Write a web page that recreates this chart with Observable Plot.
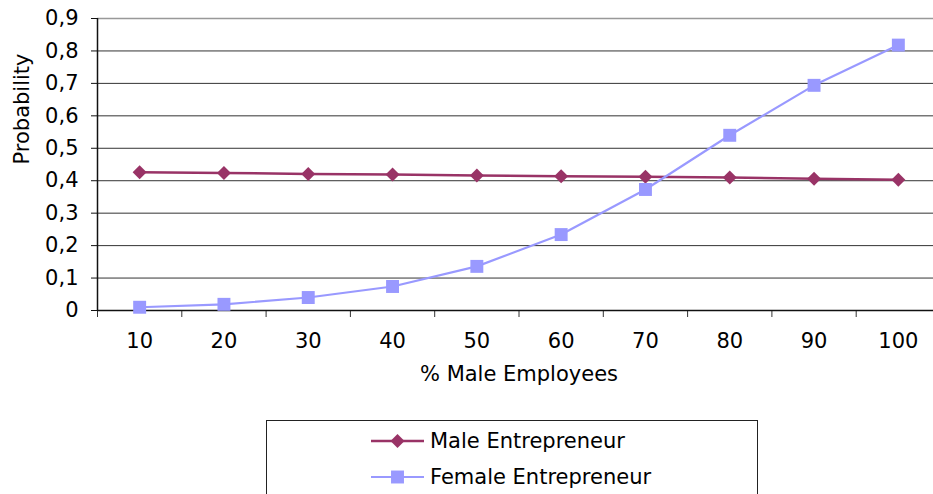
<!DOCTYPE html>
<html>
<head>
<meta charset="utf-8">
<script src="https://cdn.jsdelivr.net/npm/d3@7"></script>
<script src="https://cdn.jsdelivr.net/npm/@observablehq/plot@0.6"></script>
<style>
  html, body { margin: 0; padding: 0; background: #fff; overflow: hidden; width: 933px; height: 494px; }
  #wrap { position: relative; width: 933px; height: 494px; overflow: hidden; font-family: "DejaVu Sans", Verdana, sans-serif; }
  #wrap > svg { max-width: none !important; }
  #legend { position: absolute; left: 266px; top: 420px; width: 492px; height: 100px; border: 1px solid #222; box-sizing: border-box; }
  .row { position: absolute; left: 104px; height: 24px; display: flex; align-items: center; font-size: 21px; color: #000; }
  .row svg { margin-right: 6px; }
</style>
</head>
<body>
<div id="wrap"></div>
<script>
const categories = [10, 20, 30, 40, 50, 60, 70, 80, 90, 100];
const maleValues = [0.426, 0.424, 0.421, 0.419, 0.416, 0.414, 0.412, 0.410, 0.406, 0.403];
const femaleValues = [0.010, 0.019, 0.040, 0.074, 0.136, 0.234, 0.373, 0.540, 0.694, 0.818];
const seriesNames = ["Male Entrepreneur", "Female Entrepreneur"];
const seriesColors = ["#993366", "#9999FF"];
const seriesSymbols = ["diamond2", "square"];
const yTickValues = [0, 0.1, 0.2, 0.3, 0.4, 0.5, 0.6, 0.7, 0.8, 0.9];
const yTickLabels = ["0", "0,1", "0,2", "0,3", "0,4", "0,5", "0,6", "0,7", "0,8", "0,9"];
const xBoundaries = [5, 15, 25, 35, 45, 55, 65, 75, 85, 95];
const xLabel = "% Male Employees";
const yLabel = "Probability";

const male = categories.map((c, i) => ({x: c, y: maleValues[i]}));
const female = categories.map((c, i) => ({x: c, y: femaleValues[i]}));

const chart = Plot.plot({
  width: 940,
  height: 494,
  marginLeft: 97,
  marginRight: 0,
  marginTop: 18,
  marginBottom: 184,
  style: {fontFamily: "'DejaVu Sans', Verdana, sans-serif", fontSize: "21px", color: "#000", background: "transparent", overflow: "visible", maxWidth: "none"},
  x: {type: "linear", domain: [5, 105]},
  y: {domain: [0, 0.9]},
  marks: [
    Plot.ruleY(yTickValues.slice(1, -1), {stroke: "#333", strokeWidth: 1}),
    Plot.ruleY([0.9], {stroke: "#999", strokeWidth: 1.5}),
    Plot.axisY({ticks: yTickValues, tickFormat: d => yTickLabels[yTickValues.indexOf(d)], tickSize: 6, tickPadding: 13, fontSize: 21, label: null, stroke: "#111"}),
    Plot.axisX({ticks: xBoundaries, tickFormat: () => "", tickSize: 7, label: null, stroke: "#333"}),
    Plot.axisX({ticks: categories, tickFormat: d => String(d), tickSize: 0, tickPadding: 23, fontSize: 21, label: null}),
    Plot.ruleY([0], {stroke: "#111", strokeWidth: 1.5}),
    Plot.ruleX([5], {stroke: "#111", strokeWidth: 1.5}),
    Plot.line(male, {x: "x", y: "y", stroke: seriesColors[0], strokeWidth: 2.5}),
    Plot.line(female, {x: "x", y: "y", stroke: seriesColors[1], strokeWidth: 2.2}),
    Plot.dot(male, {x: "x", y: "y", symbol: seriesSymbols[0], r: 6.3, fill: seriesColors[0], stroke: "none"}),
    Plot.dot(female, {x: "x", y: "y", symbol: seriesSymbols[1], r: 7.3, fill: seriesColors[1], stroke: "none"}),
    Plot.text([xLabel], {frameAnchor: "bottom", dy: 70, fontSize: 21, fill: "#000"}),
    Plot.text([yLabel], {frameAnchor: "left", dx: -75, rotate: -90, fontSize: 21, fill: "#000"})
  ]
});

const wrap = document.getElementById("wrap");
chart.style.position = "absolute";
chart.style.left = "0";
chart.style.top = "0";
chart.style.maxWidth = "none";
chart.style.width = "940px";
chart.style.height = "494px";
wrap.appendChild(chart);

const legend = document.createElement("div");
legend.id = "legend";
const rowTops = [8, 44];
seriesNames.forEach((name, i) => {
  const row = document.createElement("div");
  row.className = "row";
  row.style.top = rowTops[i] + "px";
  const sw = d3.create("svg").attr("width", 53).attr("height", 16);
  sw.append("line").attr("x1", 0).attr("x2", 53).attr("y1", 8).attr("y2", 8)
    .attr("stroke", seriesColors[i]).attr("stroke-width", i === 0 ? 2.5 : 2.2);
  const sym = i === 0 ? d3.symbolDiamond2 : d3.symbolSquare;
  const size = i === 0 ? Math.PI * 6.3 * 6.3 : Math.PI * 7.3 * 7.3;
  sw.append("path").attr("d", d3.symbol(sym, size)()).attr("transform", "translate(26.5,8)").attr("fill", seriesColors[i]);
  row.appendChild(sw.node());
  const t = document.createElement("span");
  t.textContent = name;
  row.appendChild(t);
  legend.appendChild(row);
});
wrap.appendChild(legend);
</script>
</body>
</html>
